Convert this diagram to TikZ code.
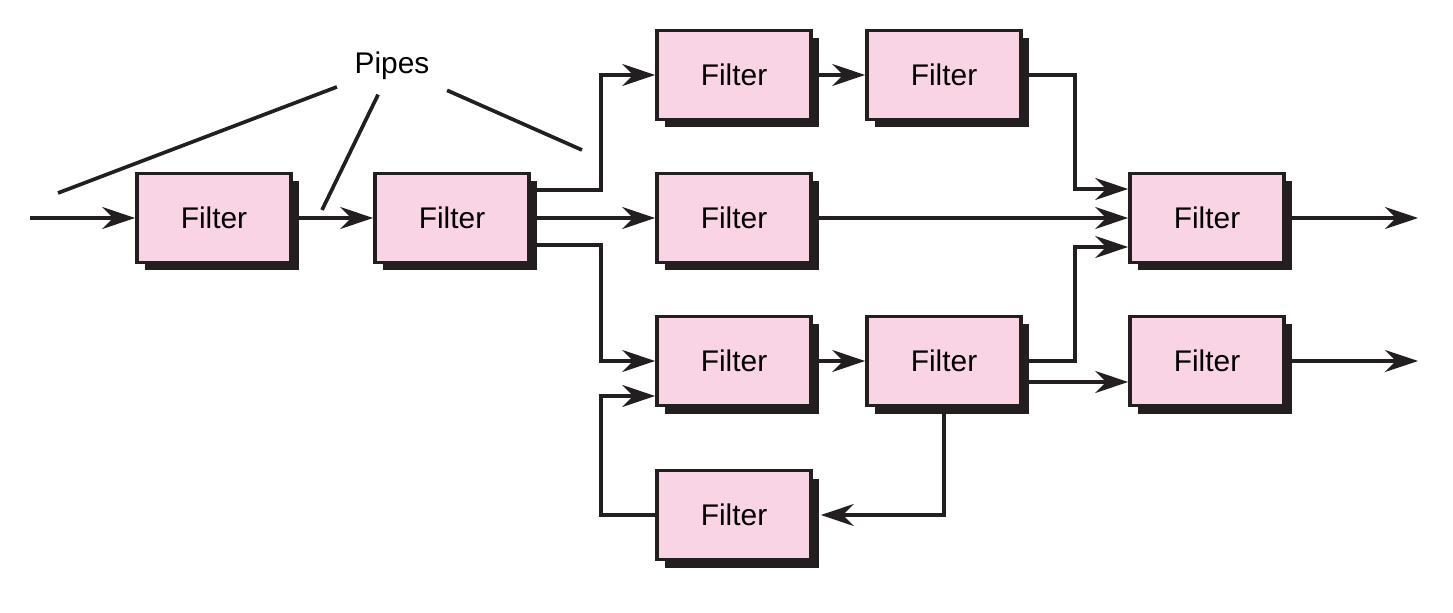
\documentclass[tikz,border=0pt]{standalone}
\usepackage{fontspec}
\setmainfont{Liberation Sans}
\usetikzlibrary{arrows.meta,shadows}
\definecolor{filterPink}{RGB}{249,212,228}
\definecolor{inkDark}{RGB}{35,31,32}
\newcommand{\filterBox}[2]{%
  \node[filter] (#1) at (#2) {Filter};}

\begin{document}
\begin{tikzpicture}[
  filter/.style={draw=inkDark,line width=1.05pt,fill=filterPink,minimum width=1.54cm,minimum height=0.89cm,inner sep=0pt,
    font=\fontsize{8.5}{10}\selectfont,drop shadow={shadow xshift=0.8mm,shadow yshift=-0.8mm,fill=inkDark,opacity=1}},
  pipe/.style={draw=inkDark,line width=1.05pt,-{Stealth[length=3.3mm,width=2.2mm,inset=1.1mm]}},
  pipeLine/.style={draw=inkDark,line width=1.05pt}]
  \path[use as bounding box] (0,0) rectangle (14.53,6.12);
  % filters
  \filterBox{first}{2.14,3.94}
  \filterBox{second}{4.52,3.94}
  \filterBox{topA}{7.34,5.37}
  \filterBox{topB}{9.44,5.37}
  \filterBox{mid}{7.34,3.94}
  \filterBox{merge}{12.07,3.94}
  \filterBox{lowA}{7.34,2.51}
  \filterBox{lowB}{9.44,2.51}
  \filterBox{lowOut}{12.07,2.51}
  \filterBox{loop}{7.34,0.97}
  % label
  \node[font=\fontsize{8.5}{10}\selectfont,inner xsep=1.7mm,inner ysep=1.4mm] (pipes) at (3.92,5.46) {Pipes};
  \coordinate (pipeA) at (0.58,4.19);
  \coordinate (pipeB) at (3.22,4.02);
  \coordinate (pipeC) at (5.82,4.62);
  \foreach \tip in {pipeA,pipeB,pipeC}
    \draw[pipeLine] (pipes) -- (\tip);
  % pipes
  \coordinate (inPipe) at (0.30,3.94);
  \coordinate (outTop) at (14.18,3.94);
  \coordinate (outLow) at (14.18,2.51);
  \draw[pipe] (inPipe) -- (first);
  \draw[pipe] (first) -- (second);
  \draw[pipe] ([yshift=2.8mm]second.east) -- ++(0.7,0) |- (topA.west);
  \draw[pipe] (second) -- (mid);
  \draw[pipe] ([yshift=-2.7mm]second.east) -- ++(0.7,0) |- (lowA.west);
  \draw[pipe] (topA) -- (topB);
  \draw[pipe] (topB.east) -- ++(0.52,0) |- ([yshift=2.9mm]merge.west);
  \draw[pipe] (mid) -- (merge);
  \draw[pipe] (lowB.east) -- ++(0.52,0) |- ([yshift=-2.9mm]merge.west);
  \draw[pipe] (lowA) -- (lowB);
  \draw[pipe] ([yshift=-2.1mm]lowB.east) -- ([yshift=-2.1mm]lowOut.west);
  \draw[pipe] (lowB.south) |- ([xshift=0.8mm]loop.east);
  \draw[pipe] (loop.west) -- ++(-0.54,0) |- ([yshift=-3.5mm]lowA.west);
  \draw[pipe] (merge) -- (outTop);
  \draw[pipe] (lowOut) -- (outLow);
\end{tikzpicture}
\end{document}
